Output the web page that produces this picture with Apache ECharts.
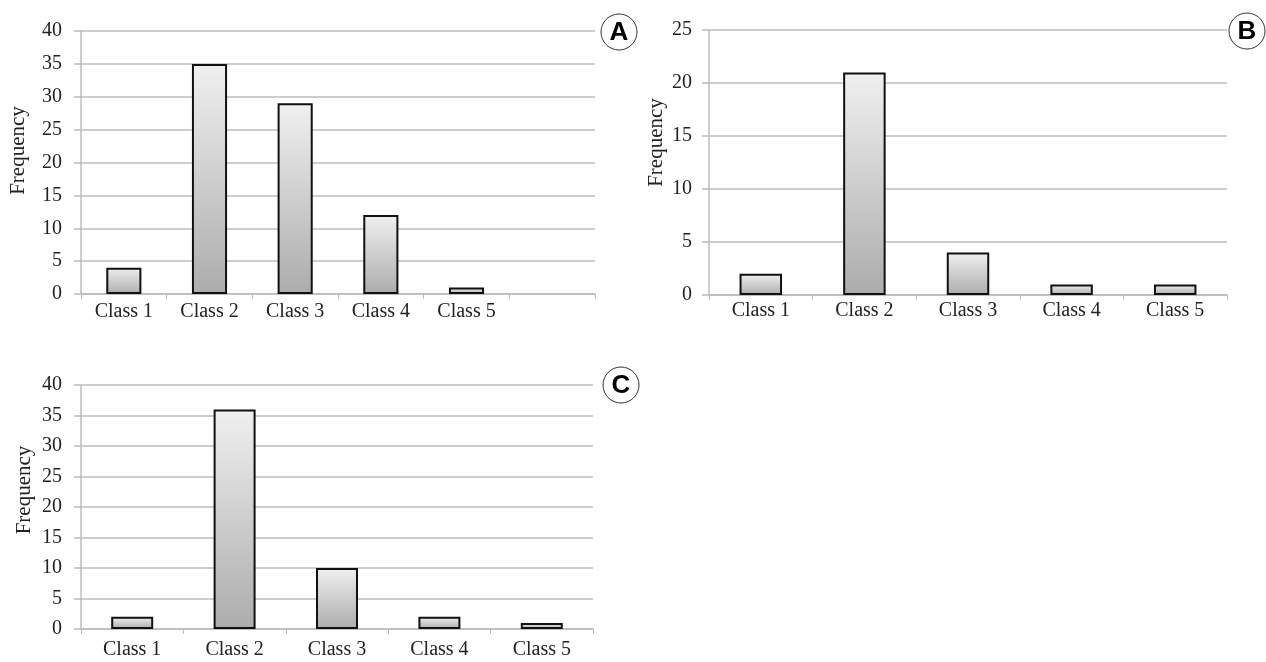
<!DOCTYPE html>
<html>
<head>
<meta charset="utf-8">
<script src="https://cdn.jsdelivr.net/npm/echarts@6/dist/echarts.min.js"></script>
<style>
html,body{margin:0;padding:0;background:#fff;}
#chart{width:1266px;height:662px;}
</style>
</head>
<body>
<div id="chart"></div>
<script>
// Data
var categoriesA = ['Class 1', 'Class 2', 'Class 3', 'Class 4', 'Class 5', ''];
var categoriesB = ['Class 1', 'Class 2', 'Class 3', 'Class 4', 'Class 5'];
var categoriesC = ['Class 1', 'Class 2', 'Class 3', 'Class 4', 'Class 5'];
var valuesA = [4, 35, 29, 12, 1, null];
var valuesB = [2, 21, 4, 1, 1];
var valuesC = [2, 36, 10, 2, 1];
var yMaxA = 40, yMaxB = 25, yMaxC = 40;
var yStep = 5;
var panelLabels = ['A', 'B', 'C'];
var axisTitle = 'Frequency';

var serif = '"Liberation Serif", "Times New Roman", serif';
var gridColor = '#bcbcbc';
var textColor = '#222';

function xAxis(idx, cats, margin) {
  return {
    type: 'category', gridIndex: idx, data: cats,
    axisLine: { lineStyle: { color: gridColor, width: 1.5 } },
    axisTick: { show: true, length: 5, lineStyle: { color: gridColor } },
    axisLabel: { color: textColor, fontFamily: serif, fontSize: 20, margin: margin, interval: 0 }
  };
}
function yAxis(idx, max, labelMargin, nameGap, pad) {
  return {
    type: 'value', gridIndex: idx, min: 0, max: max, interval: yStep,
    name: axisTitle, nameLocation: 'middle', nameGap: nameGap,
    nameTextStyle: { color: textColor, fontFamily: serif, fontSize: 21, padding: [0, 0, 0, pad] },
    axisLine: { show: true, lineStyle: { color: gridColor, width: 1.5 } },
    axisTick: { show: true, length: 7, lineStyle: { color: gridColor, width: 1.5 } },
    splitLine: { lineStyle: { color: gridColor, width: 1.5 } },
    axisLabel: { color: textColor, fontFamily: serif, fontSize: 20, margin: labelMargin }
  };
}
var barStyle = {
  color: {
    type: 'linear', x: 0, y: 0, x2: 0, y2: 1,
    colorStops: [{ offset: 0, color: '#f0f0f0' }, { offset: 1, color: '#acacac' }]
  },
  borderColor: '#111', borderWidth: 2
};
function series(idx, data) {
  return {
    type: 'bar', xAxisIndex: idx, yAxisIndex: idx, data: data,
    barWidth: '41%', itemStyle: barStyle, silent: true
  };
}
function badge(cx, cy, letter) {
  return {
    type: 'group', x: cx, y: cy,
    children: [
      { type: 'circle', shape: { cx: 0, cy: 0, r: 18 }, style: { fill: '#fff', stroke: '#333', lineWidth: 1 } },
      { type: 'text', x: 0, y: 1, style: { text: letter, fill: '#000', font: 'bold 26px "Liberation Sans", Arial, sans-serif', align: 'center', verticalAlign: 'middle' } }
    ]
  };
}

var chart = echarts.init(document.getElementById('chart'));
chart.setOption({
  animation: false,
  backgroundColor: '#fff',
  grid: [
    { left: 81, right: 671, top: 31, bottom: 368 },
    { left: 709, right: 39, top: 30, bottom: 367 },
    { left: 81, right: 673, top: 385, bottom: 33 }
  ],
  xAxis: [xAxis(0, categoriesA, 8), xAxis(1, categoriesB, 6), xAxis(2, categoriesC, 11)],
  yAxis: [yAxis(0, yMaxA, 19, 52, 24), yAxis(1, yMaxB, 17, 42, 40), yAxis(2, yMaxC, 19, 46, 34)],
  series: [series(0, valuesA), series(1, valuesB), series(2, valuesC)],
  graphic: [badge(619, 32, panelLabels[0]), badge(1247, 31, panelLabels[1]), badge(621, 385, panelLabels[2])]
});
</script>
</body>
</html>
